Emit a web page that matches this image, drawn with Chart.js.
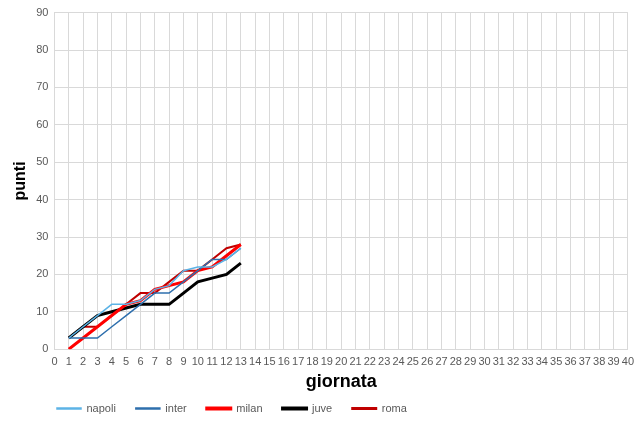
<!DOCTYPE html>
<html>
<head>
<meta charset="utf-8">
<script src="https://cdn.jsdelivr.net/npm/chart.js@4/dist/chart.umd.min.js"></script>
<style>
  html, body { margin: 0; padding: 0; background: #fff; }
  #wrap { width: 640px; height: 421px; }
</style>
</head>
<body>
<div id="wrap"><canvas id="chart" width="640" height="421"></canvas></div>
<script>
/* ===============================
   DATA
================================ */
const giornate = [1, 2, 3, 4, 5, 6, 7, 8, 9, 10, 11, 12, 13];
const napoli = [3, 6, 9, 12, 12, 13, 16, 17, 21, 22, 22, 24, 27];
const inter  = [3, 3, 3, 6, 9, 12, 15, 15, 18, 21, 24, 24, 27];
const milan  = [0, 3, 6, 9, 12, 13, 16, 17, 18, 21, 22, 25, 28];
const juve   = [3, 6, 9, 10, 11, 12, 12, 12, 15, 18, 19, 20, 23];
const roma   = [3, 6, 6, 9, 12, 15, 15, 18, 21, 21, 24, 27, 28];

const toPoints = arr => arr.map((v, i) => ({ x: giornate[i], y: v }));

const series = [
  { label: "napoli", data: napoli, color: "#5cb3e6", width: 1.5 },
  { label: "inter",  data: inter,  color: "#2e6fad", width: 1.5 },
  { label: "milan",  data: milan,  color: "#ff0000", width: 3 },
  { label: "juve",   data: juve,   color: "#000000", width: 3 },
  { label: "roma",   data: roma,   color: "#c00000", width: 2 }
];

/* ===============================
   LEGEND PLACEMENT (Excel-like)
================================ */
const legendTweak = {
  id: "legendTweak",
  beforeInit(chart) {
    const origFit = chart.legend.fit;
    chart.legend.fit = function () {
      origFit.call(this);
      this.height = 26;
    };
  },
  afterLayout(chart) {
    chart.legend.left = 37;
    chart.legend.top = 383;
  }
};

/* ===============================
   CHART
================================ */
const tickColor = "#595959";
const gridColor = "#d9d9d9";

new Chart(document.getElementById("chart"), {
  type: "line",
  data: {
    datasets: series.map(s => ({
      label: s.label,
      data: toPoints(s.data),
      borderColor: s.color,
      backgroundColor: s.color,
      borderWidth: s.width,
      pointRadius: 0,
      tension: 0,
      fill: false
    }))
  },
  plugins: [legendTweak],
  options: {
    responsive: false,
    animation: false,
    layout: { padding: { top: 6, right: 11, left: 11, bottom: 2 } },
    plugins: {
      tooltip: { enabled: false },
      legend: {
        position: "bottom",
        align: "start",
        labels: {
          color: tickColor,
          font: { family: "Liberation Sans", size: 11 },
          boxWidth: 24,
          boxHeight: 1,
          padding: 20
        }
      }
    },
    scales: {
      x: {
        type: "linear",
        min: 0,
        max: 40,
        ticks: {
          stepSize: 1,
          color: tickColor,
          font: { family: "Liberation Sans", size: 11 },
          maxRotation: 0,
          autoSkip: false,
          padding: 6
        },
        grid: { color: gridColor, drawTicks: false },
        border: { color: gridColor },
        title: {
          display: true,
          text: "giornata",
          color: "#000",
          font: { family: "Liberation Sans", size: 18, weight: "bold" },
          padding: { top: -3, bottom: 0 }
        }
      },
      y: {
        min: 0,
        max: 90,
        ticks: {
          stepSize: 10,
          color: tickColor,
          font: { family: "Liberation Sans", size: 11 },
          padding: 6
        },
        grid: { color: gridColor, drawTicks: false },
        border: { color: gridColor },
        title: {
          display: true,
          text: "punti",
          color: "#000",
          font: { family: "Liberation Sans", size: 16, weight: "bold" },
          padding: { top: 0, bottom: 0 }
        }
      }
    }
  }
});
</script>
</body>
</html>
